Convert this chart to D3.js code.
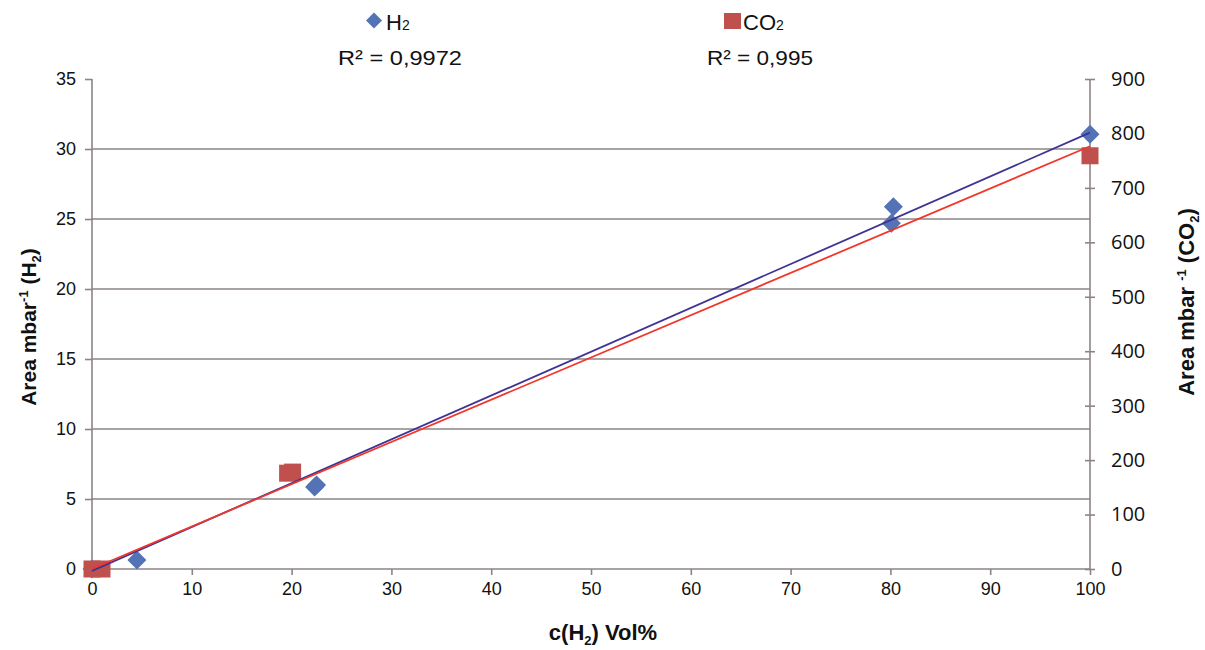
<!DOCTYPE html>
<html><head><meta charset="utf-8">
<script src="https://cdn.jsdelivr.net/npm/d3@7"></script>
<style>body{margin:0;background:#fff}svg{font-family:"Liberation Sans",Arial,sans-serif}</style>
</head><body>
<svg id="c" width="1205" height="650"></svg>
<script>
// ---- data ----
const h2X = [0, 4.5, 22.3, 22.5, 80.1, 80.3, 100];
const h2Y = [0, 0.65, 5.85, 6.0, 24.7, 25.88, 31.05];
const co2X = [0, 1.0, 19.6, 20.1, 100];
const co2Y = [0, 0, 176, 178, 759];
const h2Trend = [0.313, -0.13];    // slope, intercept (left axis)
const co2Trend = [7.76, 0.5];      // slope, intercept (right axis)
const xTicks = [0,10,20,30,40,50,60,70,80,90,100];
const yLeftTicks = [0,5,10,15,20,25,30,35];
const yRightTicks = [0,100,200,300,400,500,600,700,800,900];
const r2Labels = ["R² = 0,9972", "R² = 0,995"];

const svg = d3.select("#c");
const L = 92, R = 1090, T = 79, B = 569;
const x = d3.scaleLinear().domain([0,100]).range([L,R]);
const yl = d3.scaleLinear().domain([0,35]).range([B,T]);
const yr = d3.scaleLinear().domain([0,900]).range([B,T]);
const grid = "#8d8484";

// gridlines
svg.append("g").selectAll("line").data(yLeftTicks.filter(d=>d>0&&d<35)).join("line")
  .attr("x1",L).attr("x2",R).attr("y1",d=>yl(d)).attr("y2",d=>yl(d))
  .attr("stroke",grid).attr("stroke-width",1.6);

// axes
const ax = svg.append("g").attr("transform",`translate(0,${B})`)
  .call(d3.axisBottom(x).tickValues(xTicks).tickSize(6).tickPadding(7).tickFormat(d3.format("d")));
const ayl = svg.append("g").attr("transform",`translate(${L},0)`)
  .call(d3.axisLeft(yl).tickValues(yLeftTicks).tickSize(7).tickPadding(9).tickFormat(d3.format("d")));
const ayr = svg.append("g").attr("transform",`translate(${R},0)`)
  .call(d3.axisRight(yr).tickValues(yRightTicks).tickSize(5).tickPadding(16).tickFormat(d3.format("d")));
ayr.selectAll(".tick line").attr("x1",-5);
[ax,ayl,ayr].forEach(g=>{
  g.select(".domain").attr("stroke",grid).attr("stroke-width",1.6);
  g.selectAll(".tick line").attr("stroke",grid).attr("stroke-width",1.6);
  g.selectAll(".tick text").attr("fill","#111").style("font-size","18px").style("font-family","Liberation Sans, Arial, sans-serif");
});
ayr.selectAll(".tick text").style("font-size","20px").style("font-family","Open Sans, Liberation Sans, sans-serif");
ax.select(".domain").attr("d",`M${L},0H${R}`);
ayl.select(".domain").attr("d",`M0,${B}V${T}`);
ayr.select(".domain").attr("d",`M0,${B}V${T}`);

// markers: H2 diamonds
const dsz = 9.5;
svg.append("g").selectAll("path").data(h2X.map((d,i)=>[d,h2Y[i]])).join("path")
  .attr("d",d=>{const cx=x(d[0]),cy=yl(d[1]);return `M${cx},${cy-dsz}L${cx+dsz},${cy}L${cx},${cy+dsz}L${cx-dsz},${cy}Z`;})
  .attr("fill","#5472b6");
// CO2 squares
const ssz = 17;
svg.append("g").selectAll("rect").data(co2X.map((d,i)=>[d,co2Y[i]])).join("rect")
  .attr("x",d=>x(d[0])-ssz/2).attr("y",d=>yr(d[1])-ssz/2).attr("width",ssz).attr("height",ssz)
  .attr("fill","#bf504d");

// trend lines
svg.append("line").attr("x1",x(0)).attr("x2",x(100))
  .attr("y1",yl(h2Trend[1])).attr("y2",yl(h2Trend[0]*100+h2Trend[1]))
  .attr("stroke","#3f3494").attr("stroke-width",1.8);
svg.append("line").attr("x1",x(0)).attr("x2",x(100))
  .attr("y1",yr(co2Trend[1])).attr("y2",yr(co2Trend[0]*100+co2Trend[1]))
  .attr("stroke","#f2372a").attr("stroke-width",1.8);

// legend
const lg = svg.append("g").style("font-size","22px").attr("fill","#111");
lg.append("path").attr("d","M374,12.5L382,20.5L374,28.5L366,20.5Z").attr("fill","#5472b6");
const t1 = lg.append("text").attr("x",386).attr("y",30);
t1.append("tspan").text("H");
t1.append("tspan").text("2").style("font-size","14px");
lg.append("text").attr("x",338).attr("y",65).attr("textLength",124).attr("lengthAdjust","spacingAndGlyphs").style("font-size","21px").text(r2Labels[0]);
lg.append("rect").attr("x",724).attr("y",13).attr("width",17).attr("height",16).attr("fill","#bf504d");
const t2 = lg.append("text").attr("x",743).attr("y",30);
t2.append("tspan").text("CO");
t2.append("tspan").text("2").style("font-size","14px");
lg.append("text").attr("x",707).attr("y",65).attr("textLength",106).attr("lengthAdjust","spacingAndGlyphs").style("font-size","21px").text(r2Labels[1]);

// axis titles
function title(g, parts, size){
  const t = g.append("text").attr("text-anchor","middle").attr("font-weight","bold").style("font-size",size+"px").attr("fill","#111");
  parts.forEach(p=>{
    const s = t.append("tspan").text(p[0]);
    if(p[1]==="sup") s.attr("dy",-8).style("font-size","13px");
    else if(p[1]==="sub") s.attr("dy",5).style("font-size","13px");
    else if(p[1]==="back") s.attr("dy",p[2]);
  });
  return t;
}
title(svg.append("g").attr("transform","translate(36,327) rotate(-90)"),
  [["Area mbar"],["-1","sup"],[" (H","back",8],["2","sub"],[")","back",-5]], 21);
title(svg.append("g").attr("transform","translate(1194,302) rotate(-90)"),
  [["Area mbar "],["-1","sup"],[" (CO","back",8],["2","sub"],[")","back",-5]], 22);
title(svg.append("g").attr("transform","translate(603,640)"),
  [["c(H"],["2","sub"],[") Vol%","back",-5]], 22);
</script>
</body></html>
